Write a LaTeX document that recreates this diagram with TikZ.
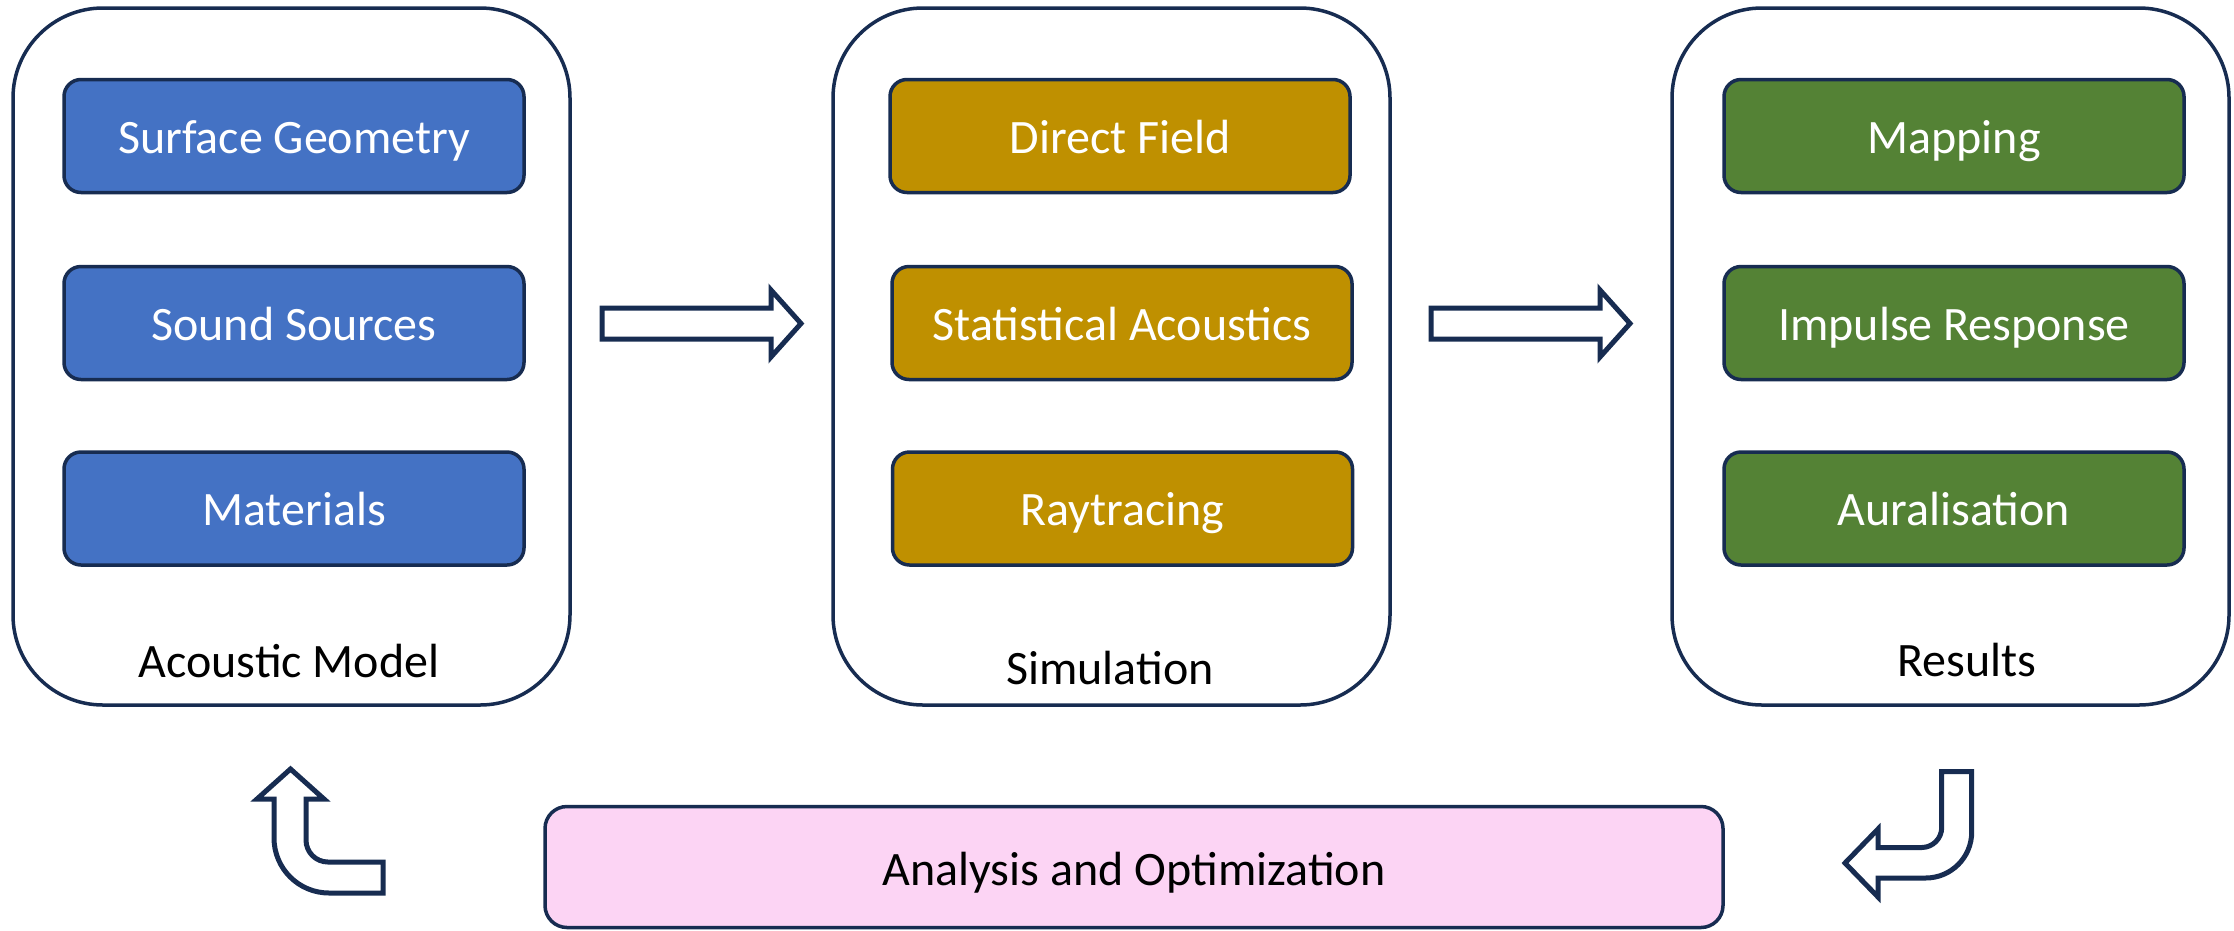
\documentclass[tikz,border=0pt]{standalone}
\usepackage{fontspec}
\setmainfont{Carlito}
\definecolor{navy}{HTML}{172C51}
\definecolor{modelblue}{HTML}{4472C4}
\definecolor{simgold}{HTML}{BF9000}
\definecolor{resgreen}{HTML}{548235}
\definecolor{anapink}{HTML}{FCD4F4}
\tikzset{
  stage/.style={draw=navy, line width=3.5pt, fill=white, rounded corners=90pt,
    minimum width=557pt, minimum height=697pt, inner sep=0pt},
  item/.style={draw=navy, line width=3.5pt, rounded corners=17pt,
    minimum width=460pt, minimum height=113pt, inner sep=0pt,
    text height=34pt, text depth=0pt, text=white,
    font=\fontsize{48pt}{58pt}\selectfont},
  caption/.style={anchor=base, inner sep=0pt, text=black,
    font=\fontsize{48pt}{58pt}\selectfont},
  blockarrow/.style={draw=navy, line width=5pt, fill=white, line join=miter},
}
\begin{document}
\begin{tikzpicture}[x=1pt, y=-1pt]
\useasboundingbox (0,0) rectangle (2234,930);

% three stage containers
\node[stage] (model) at (291.5,356.5) {};
\node[stage] (sim)   at (1111.5,356.5) {};
\node[stage] (res)   at (1950.5,356.5) {};

% acoustic model items
\node[item, fill=modelblue] (geom) at (294,136)   {Surface Geometry};
\node[item, fill=modelblue] (src)  at (294,323)   {Sound Sources};
\node[item, fill=modelblue] (mat)  at (294,508.5) {Materials};

% simulation items
\node[item, fill=simgold] (direct) at (1120,136)   {Direct Field};
\node[item, fill=simgold] (stat)   at (1122,323)   {Statistical Acoustics};
\node[item, fill=simgold] (ray)    at (1122.5,508.5) {Raytracing};

% result items
\node[item, fill=resgreen] (map)  at (1954,136)   {Mapping};
\node[item, fill=resgreen] (ir)   at (1954,323)   {Impulse Response};
\node[item, fill=resgreen] (aur)  at (1954,508.5) {Auralisation};

% stage captions
\node[caption] (modelcap) at (289,677)  {Acoustic Model};
\node[caption] (simcap)   at (1110,684) {Simulation};
\node[caption] (rescap)   at (1967,676) {Results};

% analysis box
\node[draw=navy, line width=3.5pt, fill=anapink, rounded corners=22pt,
  minimum width=1178pt, minimum height=121pt, inner sep=0pt,
  text height=36pt, text depth=0pt,
  font=\fontsize{48pt}{58pt}\selectfont] (ana) at (1134,867) {Analysis and Optimization};

% block arrows between the stages
\foreach \dx in {0,829} {
  \draw[blockarrow, xshift=\dx pt]
    (602,308) -- (771,308) -- (771,290) -- (801,323.5) -- (771,357)
    -- (771,339) -- (602,339) -- cycle;
}

% turn arrow from results down to analysis
\draw[blockarrow]
  (1941.7,771.7) -- (1971.7,771.7) -- (1971.7,832)
  .. controls (1971.7,857.4) and (1951.1,878) .. (1925.7,878)
  -- (1878,878) -- (1878,897) -- (1845,863) -- (1878,829) -- (1878,847.5)
  -- (1921.7,847.5)
  .. controls (1932.7,847.5) and (1941.7,838.5) .. (1941.7,827.5) -- cycle;

% turn arrow from analysis back up to the model
\draw[blockarrow]
  (383,893) -- (329,893)
  .. controls (298.6,893) and (274,868.4) .. (274,838)
  -- (274,799) -- (257,799) -- (290.5,769) -- (324,799) -- (306,799)
  -- (306,840)
  .. controls (306,852.2) and (315.8,862) .. (328,862) -- (383,862) -- cycle;
\end{tikzpicture}
\end{document}
